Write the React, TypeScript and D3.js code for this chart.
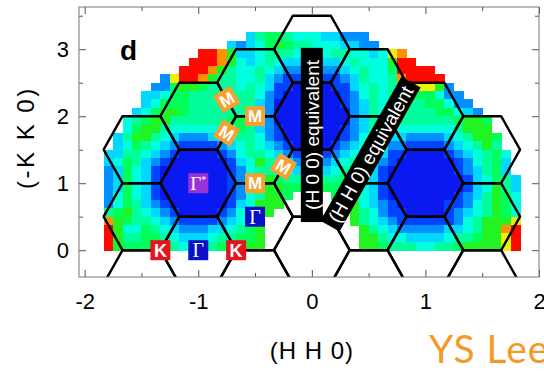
import * as d3 from 'd3';
import React, { useEffect, useRef } from 'react';

// intensity map: one string per K band, top band first.
// each char is one H cell (1/12 wide) starting at the given column, '.' = no data
const hStart = -23 / 12;
const hStep = 1 / 12;
const kTop = 3.25;
const kStep = 1 / 8;
const heatRows: [number, string][] = [
    [16, '3566544433222'],
    [14, '3234676554443322'],
    [11, 'RR97334555444455443489'],
    [10, 'RRR9743454332233454447RR'],
    [9, 'RRR97544543221122345446RRRR'],
    [7, '28RR9755445321100112354459RRRR'],
    [6, '22677655545431100001134545678872'],
    [5, '3346655555554210000001245455666422'],
    [5, '34666555555532000000012354455566422'],
    [4, '3467765555555320000000023544455566432'],
    [3, '456775555556653200000000235455555556776'],
    [3, '467754444455653210000001235554444445777'],
    [2, '35775432223345542100000012454332222345776'],
    [2, '34654321111234543210000123454221111234575'],
    [1, '3355432100001245543211112345431100001234564'],
    [1, '3465321000000134754322223455321000000124563'],
    [1, '2364310000000124555433334554310000000123563'],
    [1, '23643100000001245765544556543100000000134653'],
    [1, '236431000000012457766..666543100000000134753'],
    [1, '24643100000001245776....66643100000001235764'],
    [1, '2465321000000134777......6743210000011245764'],
    [1, '567543210000124577........754211000012345764'],
    [1, '97655432111123457.........754321111112457778'],
    [1, 'R7446543222334567..........7543222223345779R'],
    [1, 'R7556654333455667..........7754433334556778R'],
    [1, 'R7666665444566777..........7765554455677778R'],
];

const levelKeys = ['0', '1', '2', '3', '4', '5', '6', '7', '8', '9', 'R'];
const levelColors = ['#0a18f2', '#0044ff', '#0090ff', '#00d8ff', '#00ffdc', '#00ff9c',
    '#00ff5a', '#22f424', '#f0f000', '#ff9000', '#ff0a00'];

// zone centres in (H, K)
const hexCenters: [number, number][] = [
    [-1.5, -0.5], [-1.5, 0.5], [-1.5, 1.5],
    [-1, 0], [-1, 1], [-1, 2],
    [-0.5, -0.5], [-0.5, 0.5], [-0.5, 1.5], [-0.5, 2.5],
    [0, 0], [0, 1], [0, 2], [0, 3],
    [0.5, -0.5], [0.5, 0.5], [0.5, 1.5], [0.5, 2.5],
    [1, 0], [1, 1], [1, 2],
    [1.5, -0.5], [1.5, 0.5], [1.5, 1.5],
];
const hexCorners: [number, number][] = [[1 / 3, 0], [1 / 6, 0.5], [-1 / 6, 0.5], [-1 / 3, 0], [-1 / 6, -0.5], [1 / 6, -0.5]];

const kPoints: [number, number][] = [[-4 / 3, 0], [-2 / 3, 0]];
const gammaPoints: [number, number][] = [[-1, 0], [-0.5, 0.5]];
const gammaStarPoints: [number, number][] = [[-1, 1]];
const mPoints: [number, number][] = [[-0.5, 1], [-0.25, 1.25], [-0.75, 1.75], [-0.5, 2], [-0.75, 2.25]];

const xTicks = [-2, -1, 0, 1, 2];
const xMinorTicks = [-1.5, -0.5, 0.5, 1.5];
const yTicks = [0, 1, 2, 3];
const yMinorTicks = [0.5, 1.5, 2.5, 3.5];

// black bands, ends in (H, K)
const bands: { text: string, ends: [number, number][] }[] = [
    { text: '(H 0 0) equivalent', ends: [[0, 0.42], [0, 3.02]] },
    { text: '(H H 0) equivalent', ends: [[0.16, 0.36], [0.873, 2.51]] },
];

const sans = "'Liberation Sans', Arial, Helvetica, sans-serif";
const serif = "'Liberation Serif', 'Times New Roman', serif";

const App = () => {
    const svgRef = useRef<SVGSVGElement>(null);

    useEffect(() => {
        const width = 544;
        const height = 373;
        const plot = { left: 79, right: 539, top: 7, bottom: 277 };

        const x = d3.scaleLinear().domain([-2.05, 2.0]).range([plot.left, plot.right]);
        const y = d3.scaleLinear().domain([-0.4, 3.63]).range([plot.bottom, plot.top]);
        const color = d3.scaleOrdinal<string, string>().domain(levelKeys).range(levelColors);

        const svg = d3.select(svgRef.current);
        svg.selectAll('*').remove();
        svg.attr('width', width).attr('height', height);

        svg.append('defs').append('clipPath').attr('id', 'plotClip')
            .append('rect')
            .attr('x', plot.left).attr('y', plot.top)
            .attr('width', plot.right - plot.left).attr('height', plot.bottom - plot.top);

        // heat map cells
        const cells = heatRows.flatMap(([c0, s], r) =>
            s.split('').map((ch, i) => ({ ch, c: c0 + i, r }))
        ).filter(d => d.ch !== '.');

        svg.append('g')
            .attr('shape-rendering', 'crispEdges')
            .selectAll('rect')
            .data(cells)
            .enter()
            .append('rect')
            .attr('x', d => x(hStart + d.c * hStep))
            .attr('y', d => y(kTop - d.r * kStep))
            .attr('width', d => x(hStart + (d.c + 1) * hStep) - x(hStart + d.c * hStep) + 0.5)
            .attr('height', d => y(kTop - (d.r + 1) * kStep) - y(kTop - d.r * kStep) + 0.5)
            .attr('fill', d => color(d.ch));

        // hexagonal zones
        const hexLine = d3.line<[number, number]>().x(d => x(d[0])).y(d => y(d[1]));
        svg.append('g')
            .attr('clip-path', 'url(#plotClip)')
            .selectAll('path')
            .data(hexCenters)
            .enter()
            .append('path')
            .attr('d', ([h, k]) => hexLine(hexCorners.map(([dh, dk]) => [h + dh, k + dk] as [number, number])) + 'Z')
            .attr('fill', 'none')
            .attr('stroke', '#000')
            .attr('stroke-width', 2.4)
            .attr('stroke-linejoin', 'round');

        // frame and ticks (inward, all four sides)
        const styleAxis = (g: any) => {
            g.select('.domain').remove();
            g.selectAll('line').attr('stroke', '#555').attr('stroke-width', 1);
            g.selectAll('text').attr('fill', '#000').style('font-family', sans).style('font-size', '22px');
        };
        const fmt = (d: any) => String(d);

        svg.append('g').attr('transform', `translate(0,${plot.bottom})`)
            .call(d3.axisBottom(x).tickValues(xTicks).tickSize(-7).tickPadding(16).tickFormat(fmt))
            .call(styleAxis);
        svg.append('g').attr('transform', `translate(0,${plot.bottom})`)
            .call(d3.axisBottom(x).tickValues(xMinorTicks).tickSize(-4).tickFormat(() => ''))
            .call(styleAxis);
        svg.append('g').attr('transform', `translate(0,${plot.top})`)
            .call(d3.axisTop(x).tickValues(xTicks).tickSize(-7).tickFormat(() => ''))
            .call(styleAxis);
        svg.append('g').attr('transform', `translate(0,${plot.top})`)
            .call(d3.axisTop(x).tickValues(xMinorTicks).tickSize(-4).tickFormat(() => ''))
            .call(styleAxis);
        svg.append('g').attr('transform', `translate(${plot.left},0)`)
            .call(d3.axisLeft(y).tickValues(yTicks).tickSize(-7).tickPadding(10).tickFormat(fmt))
            .call(styleAxis);
        svg.append('g').attr('transform', `translate(${plot.left},0)`)
            .call(d3.axisLeft(y).tickValues(yMinorTicks).tickSize(-4).tickFormat(() => ''))
            .call(styleAxis);
        svg.append('g').attr('transform', `translate(${plot.right},0)`)
            .call(d3.axisRight(y).tickValues(yTicks).tickSize(-7).tickFormat(() => ''))
            .call(styleAxis);
        svg.append('g').attr('transform', `translate(${plot.right},0)`)
            .call(d3.axisRight(y).tickValues(yMinorTicks).tickSize(-4).tickFormat(() => ''))
            .call(styleAxis);

        svg.append('rect')
            .attr('x', plot.left).attr('y', plot.top)
            .attr('width', plot.right - plot.left).attr('height', plot.bottom - plot.top)
            .attr('fill', 'none').attr('stroke', '#777').attr('stroke-width', 1);

        // black bands with rotated text
        bands.forEach(b => {
            const [p0, p1] = b.ends.map(([h, k]) => [x(h), y(k)]);
            const len = Math.hypot(p1[0] - p0[0], p1[1] - p0[1]);
            const ang = Math.atan2(p1[1] - p0[1], p1[0] - p0[0]) * 180 / Math.PI;
            const g = svg.append('g')
                .attr('transform', `translate(${(p0[0] + p1[0]) / 2},${(p0[1] + p1[1]) / 2}) rotate(${ang})`);
            g.append('rect')
                .attr('x', -len / 2).attr('y', -11)
                .attr('width', len).attr('height', 22)
                .attr('fill', '#000');
            g.append('text')
                .attr('text-anchor', 'middle')
                .attr('dy', '0.36em')
                .attr('fill', '#fff')
                .style('font-family', sans)
                .style('font-size', '19px')
                .text(b.text);
        });

        // symmetry point labels
        const labelGroup = svg.append('g');
        const addLabel = (h: number, k: number, fill: string, text: string, font: string, size: number, rot: number, star = false) => {
            const g = labelGroup.append('g')
                .attr('transform', `translate(${x(h)},${y(k)}) rotate(${rot})`);
            g.append('rect')
                .attr('x', -10).attr('y', -10).attr('width', 20).attr('height', 20)
                .attr('fill', fill);
            const t = g.append('text')
                .attr('text-anchor', 'middle')
                .attr('y', size * 0.36)
                .attr('fill', '#fff')
                .style('font-family', font)
                .style('font-size', size + 'px')
                .style('font-weight', font === sans ? 'bold' : 'normal')
                .text(text);
            if (star) {
                t.append('tspan').attr('dy', -7).style('font-size', '10px').text('*');
            }
        };

        kPoints.forEach(([h, k]) => addLabel(h, k, '#e8141c', 'K', sans, 18, 0));
        gammaPoints.forEach(([h, k]) => addLabel(h, k, '#0a10c8', 'Γ', serif, 20, 0));
        gammaStarPoints.forEach(([h, k]) => addLabel(h, k, '#9a32d6', 'Γ', serif, 19, 0, true));

        // M labels sit on zone edges: turn each square to follow its edge
        mPoints.forEach(([h, k]) => {
            const c = d3.least(hexCenters, ([ch, ck]) => Math.hypot(ch - h, ck - k)) as [number, number];
            let a = Math.atan2(y(k) - y(c[1]), x(h) - x(c[0])) * 180 / Math.PI;
            a = ((a % 90) + 90) % 90;
            if (a > 45) a -= 90;
            addLabel(h, k, '#f5a031', 'M', sans, 17, a);
        });

        // panel letter, axis titles, credit
        svg.append('text')
            .attr('x', 120).attr('y', 60)
            .style('font-family', sans).style('font-size', '28px').style('font-weight', 'bold')
            .text('d');

        svg.append('text')
            .attr('x', x(0)).attr('y', 359)
            .attr('text-anchor', 'middle')
            .style('font-family', sans).style('font-size', '24px').style('letter-spacing', '1px')
            .text('(H H 0)');

        svg.append('text')
            .attr('transform', `translate(34,${y(1.68)}) rotate(-90)`)
            .attr('text-anchor', 'middle')
            .style('font-family', sans).style('font-size', '24px').style('letter-spacing', '2.5px')
            .text('(-K K 0)');

        svg.append('text')
            .attr('x', 429).attr('y', 363)
            .attr('fill', '#f39a26')
            .style('font-family', "Lato, 'Open Sans', sans-serif").style('font-size', '39px')
            .style('font-weight', 400).style('letter-spacing', '1px')
            .text('YS Lee');
    }, []);

    return <svg ref={svgRef} style={{ position: 'absolute', left: 0, top: 0, display: 'block' }}></svg>;
};

export default App;
